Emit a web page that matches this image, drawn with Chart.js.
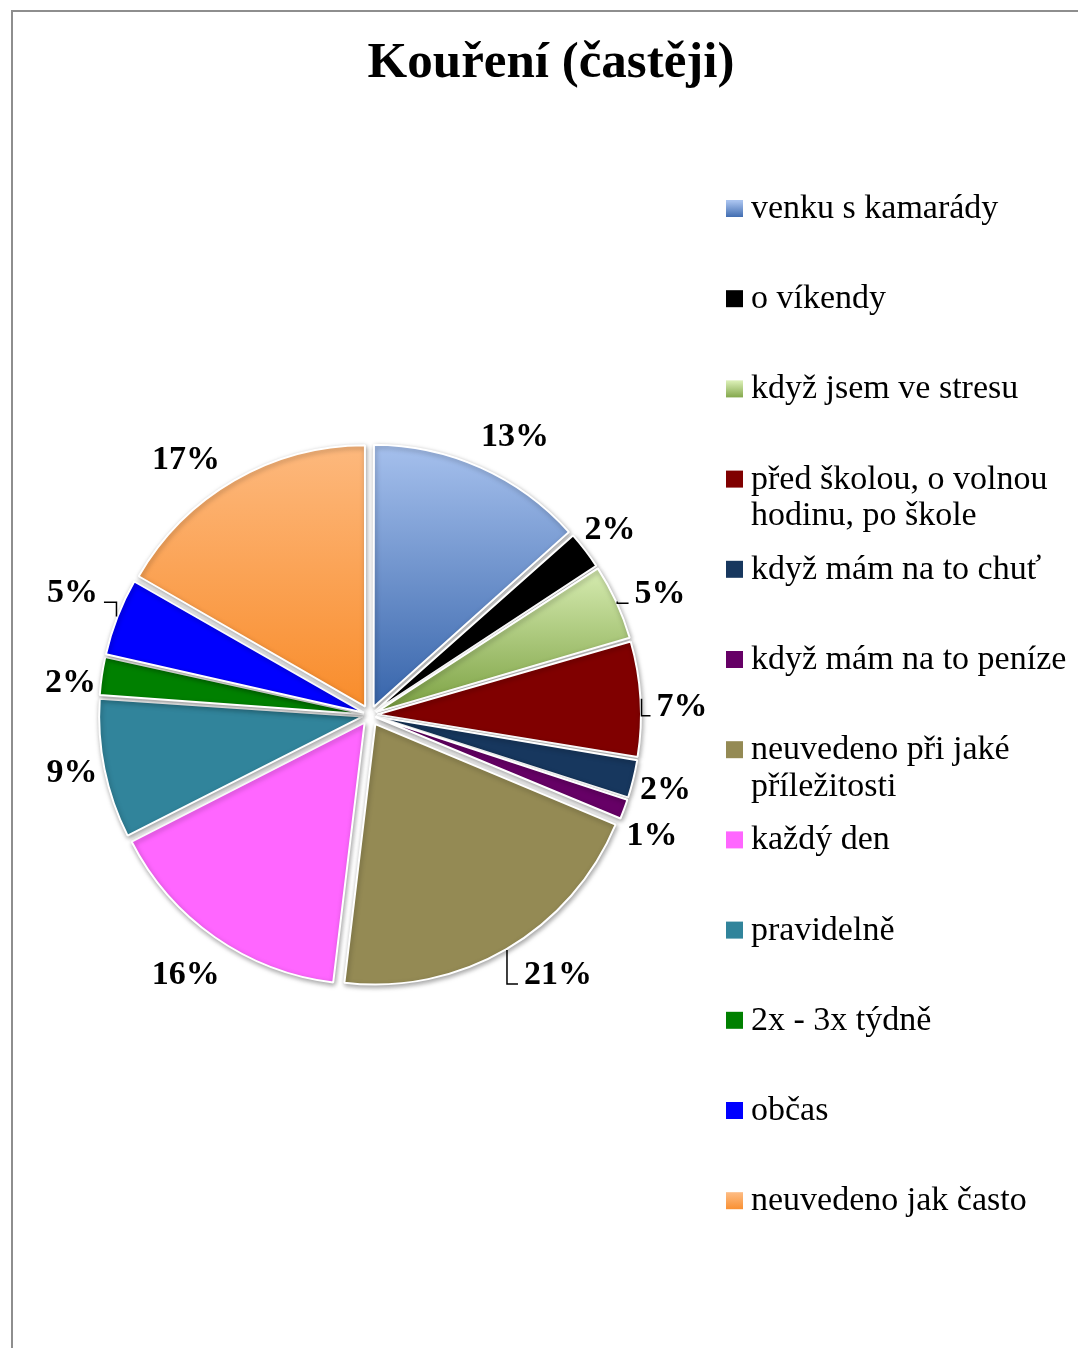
<!DOCTYPE html>
<html>
<head>
<meta charset="utf-8">
<script src="https://cdn.jsdelivr.net/npm/chart.js"></script>
<style>
  body { margin: 0; background: #fff; }
  #wrap { position: relative; width: 1078px; height: 1348px; }
  #frame { position: absolute; left: 11px; top: 10px; right: 0; bottom: 0;
           border-top: 2px solid #8e8e8e; border-left: 2px solid #8e8e8e; }
  canvas { position: absolute; left: 0; top: 0; }
</style>
</head>
<body>
<div id="wrap">
  <div id="frame"></div>
  <canvas id="smokingChart" width="1078" height="1348"></canvas>
</div>
<script>
const chartTitle = "Kouření (častěji)";
const categories = [
  "venku s kamarády",
  "o víkendy",
  "když jsem ve stresu",
  "před školou, o volnou hodinu, po škole",
  "když mám na to chuť",
  "když mám na to peníze",
  "neuvedeno při jaké příležitosti",
  "každý den",
  "pravidelně",
  "2x - 3x týdně",
  "občas",
  "neuvedeno jak často"
];
// shares in % (labels show them rounded)
const shares = [13.4, 2.4, 4.7, 7.1, 2.4, 1.3, 20.6, 15.6, 8.6, 2.4, 4.8, 16.7];
const sliceColors = ["#6f93d2", "#000000", "#aacb7c", "#800000", "#17375e", "#660066",
                     "#948a54", "#ff66ff", "#31849b", "#008000", "#0000ff", "#fba45a"];
// top / bottom colours for the gradient-filled slices
const gradientTop = { 0: "#a9c3ef", 2: "#d8edb3", 11: "#fdba80" };
const gradientBottom = { 0: "#3b68ad", 2: "#7ea345", 11: "#f98e2e" };
// labels that were dragged out in the original, with a leader line
const leaderSlices = [2, 3, 6, 10];
const labelNudge = [[7, -5], [-12, 1], [6, 7], [3, 10], [-6, 3], [-10, 15],
                    [18, 1], [9, 13], [6, -3], [7, 12], [-7, -11], [-15, 5]];

const FONT = "'Liberation Serif', 'Times New Roman', serif";
const R = 260;
const EXPLODE = 11;
const total = shares.reduce((a, b) => a + b, 0);

function sliceFill(context) {
  const i = context.dataIndex;
  if (context.type !== "data" || gradientTop[i] === undefined) return sliceColors[i];
  const chart = context.chart;
  const area = chart.chartArea;
  if (!area) return sliceColors[i];
  const cy = (area.top + area.bottom) / 2;
  let before = 0;
  for (let k = 0; k < i; k++) before += shares[k];
  const a0 = -Math.PI / 2 + 2 * Math.PI * before / total;
  const a1 = a0 + 2 * Math.PI * shares[i] / total;
  const mid = (a0 + a1) / 2;
  let minY = cy, maxY = cy;
  for (let t = 0; t <= 40; t++) {
    const y = cy + R * Math.sin(a0 + (a1 - a0) * t / 40);
    minY = Math.min(minY, y); maxY = Math.max(maxY, y);
  }
  const shift = Math.sin(mid) * EXPLODE;
  const g = chart.ctx.createLinearGradient(0, minY + shift, 0, maxY + shift);
  g.addColorStop(0, gradientTop[i]);
  g.addColorStop(1, gradientBottom[i]);
  return g;
}

// Chart.js moves a slice by offset/4 * (1 + fix); keep the visible shift the same for all
function sliceOffset(context) {
  const ang = 2 * Math.PI * shares[context.dataIndex] / total;
  const fix = 1 - Math.sin(Math.min(Math.PI, ang));
  return 4 * EXPLODE / (1 + fix);
}

const shadowPlugin = {
  id: "sliceShadow",
  beforeDatasetsDraw(chart) {
    const c = chart.ctx;
    c.save();
    c.shadowColor = "rgba(0,0,0,0.35)";
    c.shadowBlur = 5;
    c.shadowOffsetX = 1;
    c.shadowOffsetY = 2;
  },
  afterDatasetsDraw(chart) {
    chart.ctx.restore();
  }
};

const percentLabels = {
  id: "percentLabels",
  afterDatasetsDraw(chart) {
    const c = chart.ctx;
    const meta = chart.getDatasetMeta(0);
    c.save();
    c.font = "bold 34px " + FONT;
    c.fillStyle = "#000";
    c.textAlign = "center";
    c.textBaseline = "middle";
    meta.data.forEach((arc, i) => {
      const p = arc.getProps(["x", "y", "startAngle", "endAngle", "outerRadius"], true);
      const mid = (p.startAngle + p.endAngle) / 2;
      const ux = Math.cos(mid), uy = Math.sin(mid);
      const txt = Math.round(shares[i]) + "%";
      const w = c.measureText(txt).width;
      const W = w + 10, H = 36;
      const cornerX = p.x + ux * (p.outerRadius + 19);
      const cornerY = p.y + uy * (p.outerRadius + 19);
      const lx = cornerX + Math.sign(ux) * Math.min(1, Math.abs(ux) * 1.5) * W / 2 + labelNudge[i][0];
      const ly = cornerY + Math.sign(uy) * Math.min(1, Math.abs(uy) * 1.5) * H / 2 + labelNudge[i][1];
      c.fillText(txt, lx, ly);
      if (leaderSlices.includes(i)) {
        const ex = p.x + ux * (p.outerRadius + EXPLODE + 1);
        const ey = p.y + uy * (p.outerRadius + EXPLODE + 1);
        const side = ux >= 0 ? -1 : 1;
        const tx = lx + side * (w / 2 + 6);
        const ty = ly + 9;
        c.beginPath();
        c.strokeStyle = "#000";
        c.lineWidth = 1.5;
        c.moveTo(ex, ey);
        c.lineTo(ex, ty);
        c.lineTo(tx, ty);
        c.stroke();
      }
    });
    c.restore();
  }
};

function wrapText(c, text, maxW) {
  const words = text.split(" ");
  const lines = [];
  let line = "";
  words.forEach(w => {
    const test = line ? line + " " + w : w;
    if (line && c.measureText(test).width > maxW) { lines.push(line); line = w; }
    else line = test;
  });
  if (line) lines.push(line);
  return lines;
}

const sideLegend = {
  id: "sideLegend",
  afterDraw(chart) {
    const c = chart.ctx;
    c.save();
    c.font = "34px " + FONT;
    c.textBaseline = "middle";
    c.textAlign = "left";
    chart.data.labels.forEach((lab, i) => {
      const y = 209 + i * 90.2;
      c.fillStyle = sliceColors[i];
      if (gradientTop[i] !== undefined) {
        const g = c.createLinearGradient(0, y - 8, 0, y + 9);
        g.addColorStop(0, gradientTop[i]);
        g.addColorStop(1, gradientBottom[i]);
        c.fillStyle = g;
      }
      c.fillRect(726, y - 9, 17, 17);
      c.fillStyle = "#000";
      wrapText(c, lab, 318).forEach((ln, k) => c.fillText(ln, 751, y + k * 36.5));
    });
    c.restore();
  }
};

const titlePlugin = {
  id: "topTitle",
  afterDraw(chart) {
    const c = chart.ctx;
    c.save();
    c.font = "bold 51px " + FONT;
    c.fillStyle = "#000";
    c.textAlign = "center";
    c.textBaseline = "alphabetic";
    c.fillText(chartTitle, 551, 77);
    c.restore();
  }
};

const ctx = document.getElementById("smokingChart");
new Chart(ctx, {
  type: "pie",
  data: {
    labels: categories,
    datasets: [{
      data: shares,
      backgroundColor: sliceFill,
      borderColor: "#ffffff",
      borderWidth: 2,
      offset: sliceOffset,
      radius: R
    }]
  },
  options: {
    responsive: false,
    animation: false,
    layout: { padding: { left: 94, right: 432, top: 440, bottom: 358 } },
    plugins: {
      legend: { display: false },
      title: { display: false },
      tooltip: { enabled: false }
    }
  },
  plugins: [shadowPlugin, percentLabels, sideLegend, titlePlugin]
});
</script>
</body>
</html>
